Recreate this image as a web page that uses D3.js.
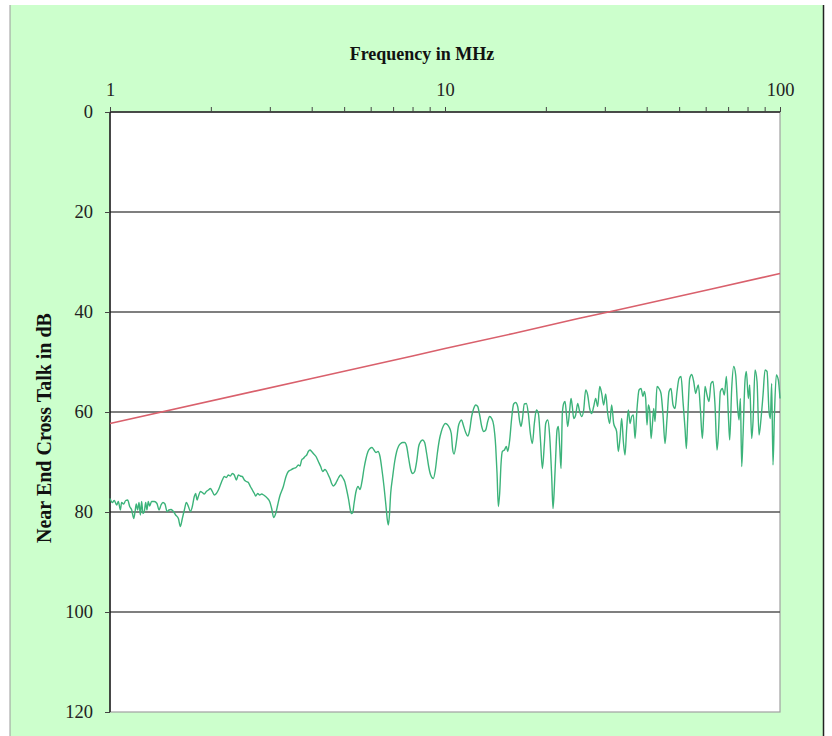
<!DOCTYPE html>
<html>
<head>
<meta charset="utf-8">
<script src="https://cdn.jsdelivr.net/npm/d3@7"></script>
<style>
  body { margin: 0; background: #fff; }
  svg { display: block; font-family: "Liberation Serif", "Times New Roman", serif; }
</style>
</head>
<body>
<svg id="chart" width="832" height="736"></svg>
<script>
// frequency ticks (MHz) and dB ticks
var freqTicks = [1, 2, 3, 4, 5, 6, 7, 8, 9, 10, 20, 30, 40, 50, 60, 70, 80, 90, 100];
var freqLabels = [1, 10, 100];
var dbTicks = [0, 20, 40, 60, 80, 100, 120];

// limit line (red)
var limitFreq = [1, 4, 8, 10, 16, 20, 25, 31.25, 62.5, 100];
var limitDb = [62.3, 53.3, 48.8, 47.3, 44.3, 42.8, 41.3, 39.9, 35.4, 32.3];

var nextFreq = [
  1.000, 1.016, 1.030, 1.047, 1.059, 1.074, 1.083, 1.098, 1.114, 1.129, 1.145, 1.161, 1.177, 1.188, 1.198, 1.209,
  1.221, 1.232, 1.243, 1.254, 1.266, 1.278, 1.289, 1.301, 1.313, 1.331, 1.356, 1.381, 1.401, 1.420, 1.439, 1.459,
  1.480, 1.500, 1.521, 1.546, 1.570, 1.600, 1.622, 1.644, 1.667, 1.690, 1.714, 1.738, 1.761, 1.785, 1.802, 1.819,
  1.835, 1.861, 1.887, 1.912, 1.939, 1.966, 1.993, 2.021, 2.048, 2.077, 2.106, 2.135, 2.164, 2.194, 2.225, 2.255,
  2.287, 2.318, 2.350, 2.383, 2.416, 2.449, 2.483, 2.518, 2.553, 2.588, 2.624, 2.660, 2.697, 2.722, 2.760, 2.798,
  2.836, 2.876, 2.915, 2.955, 2.996, 3.038, 3.080, 3.123, 3.166, 3.210,
  3.292, 3.353, 3.406, 3.462, 3.526, 3.592, 3.650, 3.692, 3.734, 3.777, 3.821, 3.865, 3.908, 3.954, 3.999, 4.046,
  4.120, 4.187, 4.255, 4.313, 4.383, 4.434, 4.485, 4.536, 4.588, 4.642, 4.695, 4.749, 4.815, 4.882, 4.949, 5.018,
  5.088, 5.158, 5.206, 5.254, 5.303, 5.352, 5.425, 5.500, 5.576, 5.652, 5.731, 5.810, 5.890, 5.971, 6.054, 6.138,
  6.222, 6.310, 6.397, 6.485, 6.575, 6.667, 6.728, 6.774, 6.821, 6.884, 6.980, 7.077, 7.174, 7.273, 7.374, 7.475,
  7.580, 7.685, 7.791, 7.898, 8.008, 8.119, 8.230, 8.344, 8.459, 8.576, 8.695, 8.815, 8.938, 9.062, 9.230, 9.357,
  9.486, 9.618, 9.752, 9.886, 10.02, 10.16, 10.30, 10.44, 10.54, 10.64,
  10.83, 10.96, 11.09, 11.21, 11.34, 11.53, 11.69, 11.85, 12.01, 12.18, 12.35, 12.52, 12.69, 12.87, 13.05, 13.23,
  13.41, 13.59, 13.78, 13.97, 14.17, 14.30, 14.43, 14.56, 14.70, 14.83, 15.04, 15.25, 15.39, 15.60, 15.81, 16.03,
  16.25, 16.48, 16.71, 16.86, 17.02, 17.25, 17.49, 17.73, 17.98, 18.23, 18.48, 18.74, 19.00, 19.26, 19.53, 19.80,
  19.98, 20.26, 20.54, 20.82, 21.01, 21.21, 21.40, 21.60, 21.80, 22.00, 22.20, 22.40, 22.61, 22.82, 23.03, 23.24,
  23.56, 23.78, 23.99, 24.22, 24.55, 24.89, 25.23, 25.59, 25.94, 26.30, 26.66, 27.03, 27.41, 27.79, 28.17, 28.56,
  28.96, 29.36, 29.76, 30.18, 30.59, 31.01, 31.44, 31.88,
  32.53, 32.91, 33.29, 33.68, 34.07, 34.46, 34.86, 35.27, 35.67, 36.08, 36.50, 36.92, 37.43, 37.95, 38.47, 39.00,
  39.36, 39.72, 40.09, 40.46, 40.83, 41.21, 41.59, 41.97, 42.36, 42.94, 43.54, 44.14, 44.75, 45.37, 46.00, 46.64,
  47.28, 47.94, 48.60, 49.27, 49.95, 50.65, 51.34, 52.06, 52.54, 53.03, 53.76, 54.51, 55.26, 56.02, 56.53, 57.05,
  57.84, 58.64, 59.18, 59.72, 60.55, 61.39, 62.23, 63.10, 63.97, 64.86, 65.46, 66.37, 67.29, 68.22, 69.17, 70.12,
  70.77, 71.75, 72.74, 73.75, 74.77, 75.46, 76.16, 76.86, 77.57, 78.64, 79.36, 80.46, 81.20, 82.32, 83.08, 84.23,
  85.40, 86.58, 87.78, 88.99, 90.23, 91.48, 92.74, 93.59, 94.43, 95.30, 96.18, 97.50, 98.86, 100.0
];
var nextDb = [
  77.3, 78.1, 77.7, 78.6, 77.9, 79.6, 78.1, 78.4, 77.7, 77.6, 78.9, 79.6, 81.3, 79.9, 78.4, 79.6,
  78.1, 80.6, 77.9, 80.3, 79.9, 78.1, 79.6, 77.9, 78.8, 77.9, 77.9, 78.3, 79.6, 78.6, 78.1, 78.4,
  79.9, 79.6, 79.5, 79.9, 80.6, 81.3, 82.9, 81.3, 79.6, 78.1, 78.9, 79.9, 78.9, 76.9, 76.3, 77.6,
  76.9, 75.9, 76.1, 76.4, 75.9, 75.6, 75.3, 75.9, 76.6, 76.3, 75.6, 74.6, 73.6, 72.9, 73.1, 72.6,
  72.8, 72.3, 72.6, 73.6, 72.6, 72.8, 72.9, 73.6, 73.9, 74.1, 74.9, 75.6, 76.3, 76.8, 76.3, 76.6,
  76.4, 76.6, 76.9, 77.3, 77.9, 79.3, 81.1, 80.3, 78.6, 76.9,
  74.9, 72.9, 71.9, 71.6, 71.3, 71.1, 70.6, 70.8, 69.6, 69.3, 68.9, 68.6, 67.9, 67.6, 67.9, 68.3,
  68.9, 69.9, 70.9, 71.9, 71.5, 71.9, 72.6, 73.3, 74.3, 74.8, 74.5, 73.9, 73.1, 72.6, 73.1, 73.9,
  75.6, 77.6, 79.3, 80.3, 80.1, 78.3, 75.9, 74.9, 75.5, 73.9, 71.3, 69.3, 67.9, 67.3, 67.1, 67.6,
  68.1, 67.9, 68.9, 71.6, 74.9, 78.9, 81.6, 82.6, 80.9, 76.3, 72.9, 69.9, 67.9, 66.8, 66.3, 66.1,
  66.1, 66.9, 69.3, 71.5, 72.3, 71.9, 69.9, 66.9, 65.9, 65.6, 66.1, 68.3, 70.9, 72.6, 73.3, 71.6,
  68.3, 65.6, 63.9, 62.8, 62.3, 62.5, 63.1, 64.3, 67.5, 68.4,
  65.6, 62.9, 61.9, 61.6, 62.6, 64.1, 64.8, 63.6, 60.9, 59.3, 58.6, 58.9, 60.6, 62.9, 63.9, 63.6,
  61.9, 60.9, 61.3, 62.6, 66.9, 72.3, 78.9, 76.3, 70.3, 67.9, 67.6, 66.9, 67.9, 65.6, 61.3, 58.4,
  58.1, 58.9, 61.9, 62.9, 61.5, 58.4, 58.3, 60.3, 64.3, 66.3, 62.3, 59.6, 60.3, 65.3, 71.3, 66.3,
  62.3, 61.6, 64.9, 72.9, 79.3, 74.9, 68.9, 63.6, 62.9, 66.9, 71.3, 60.3, 58.3, 57.9, 60.3, 62.9,
  59.6, 57.3, 58.9, 61.3, 60.6, 58.3, 59.9, 60.9, 59.6, 55.6, 56.6, 59.3, 60.3, 58.9, 57.3, 58.9,
  54.9, 56.3, 58.6, 56.4, 60.3, 62.3, 58.6, 62.3,
  63.9, 67.9, 65.3, 61.3, 65.9, 68.6, 63.3, 59.6, 62.3, 60.9, 60.6, 65.3, 59.3, 55.6, 55.3, 56.9,
  55.9, 57.3, 62.6, 58.6, 59.6, 65.3, 62.6, 59.3, 61.9, 54.9, 55.3, 56.3, 60.6, 66.3, 61.3, 55.9,
  55.3, 58.6, 59.3, 55.9, 53.3, 52.9, 57.9, 63.3, 67.3, 61.3, 53.3, 52.5, 53.9, 56.3, 55.3, 54.6,
  59.3, 65.3, 60.6, 54.9, 56.6, 57.9, 54.3, 53.9, 58.6, 67.6, 64.6, 55.9, 55.3, 56.6, 52.9, 60.6,
  65.6, 55.3, 50.9, 52.6, 59.3, 61.6, 57.3, 70.9, 64.6, 53.6, 51.9, 57.3, 54.6, 65.3, 61.9, 51.6,
  53.9, 64.6, 61.3, 56.6, 51.6, 51.9, 59.9, 61.3, 54.3, 70.6, 61.3, 52.6, 53.6, 57.3
];

var svg = d3.select("#chart");
var plot = { left: 110, right: 780, top: 112, bottom: 712 };

// page background
svg.append("rect").attr("x", 10).attr("y", 5).attr("width", 813).attr("height", 740)
  .attr("fill", "#ccffcc");
svg.append("line").attr("x1", 10).attr("x2", 10).attr("y1", 5).attr("y2", 736)
  .attr("stroke", "#9a9a9a").attr("stroke-width", 1);
svg.append("line").attr("x1", 823.5).attr("x2", 823.5).attr("y1", 5).attr("y2", 736)
  .attr("stroke", "#222").attr("stroke-width", 1.5);

var x = d3.scaleLog().domain([1, 100]).range([plot.left, plot.right]);
var y = d3.scaleLinear().domain([0, 120]).range([plot.top, plot.bottom]);

// plot area
svg.append("rect").attr("x", plot.left).attr("y", plot.top)
  .attr("width", plot.right - plot.left).attr("height", plot.bottom - plot.top)
  .attr("fill", "#fff").attr("stroke", "#a0a0a0").attr("stroke-width", 1.2);

// gridlines
svg.append("g").selectAll("line").data(dbTicks.filter(function(d) { return d > 0 && d < 120; }))
  .join("line")
  .attr("x1", plot.left).attr("x2", plot.right)
  .attr("y1", function(d) { return y(d); }).attr("y2", function(d) { return y(d); })
  .attr("stroke", "#555").attr("stroke-width", 1.6);

// axes
var xAxis = d3.axisTop(x).tickValues(freqTicks).tickSize(5).tickPadding(11)
  .tickFormat(function(d) { return freqLabels.indexOf(d) >= 0 ? d : ""; });
var gx = svg.append("g").attr("transform", "translate(0," + plot.top + ")").call(xAxis);
gx.select(".domain").attr("stroke", "#222").attr("stroke-width", 1.4).attr("d", "M" + plot.left + ",0H" + plot.right);
gx.selectAll(".tick line").attr("stroke", "#444");
gx.selectAll("text").attr("font-size", 18.5).attr("font-family", "Liberation Serif, serif").attr("fill", "#222");

var yAxis = d3.axisLeft(y).tickValues(dbTicks).tickSize(5).tickPadding(12);
var gy = svg.append("g").attr("transform", "translate(" + plot.left + ",0)").call(yAxis);
gy.select(".domain").attr("stroke", "#111").attr("stroke-width", 1.4).attr("d", "M0," + plot.top + "V" + plot.bottom);
gy.selectAll(".tick line").attr("stroke", "#444");
gy.selectAll("text").attr("font-size", 18.5).attr("font-family", "Liberation Serif, serif").attr("fill", "#222");

// series
var line = d3.line().x(function(d) { return x(d[0]); }).y(function(d) { return y(d[1]); });

svg.append("path")
  .datum(d3.zip(nextFreq, nextDb))
  .attr("fill", "none").attr("stroke", "#3cb37a").attr("stroke-width", 1.4)
  .attr("d", line.curve(d3.curveMonotoneX));

svg.append("path")
  .datum(d3.zip(limitFreq, limitDb))
  .attr("fill", "none").attr("stroke", "#d9606c").attr("stroke-width", 1.6)
  .attr("d", line.curve(d3.curveLinear));

// titles
svg.append("text").attr("x", 422).attr("y", 60).attr("text-anchor", "middle")
  .attr("font-size", 18).attr("font-weight", "bold").attr("fill", "#111")
  .text("Frequency in MHz");

svg.append("text").attr("transform", "translate(51,428) rotate(-90)").attr("text-anchor", "middle")
  .attr("font-size", 20).attr("font-weight", "bold").attr("fill", "#111")
  .text("Near End Cross Talk in dB");
</script>
</body>
</html>
